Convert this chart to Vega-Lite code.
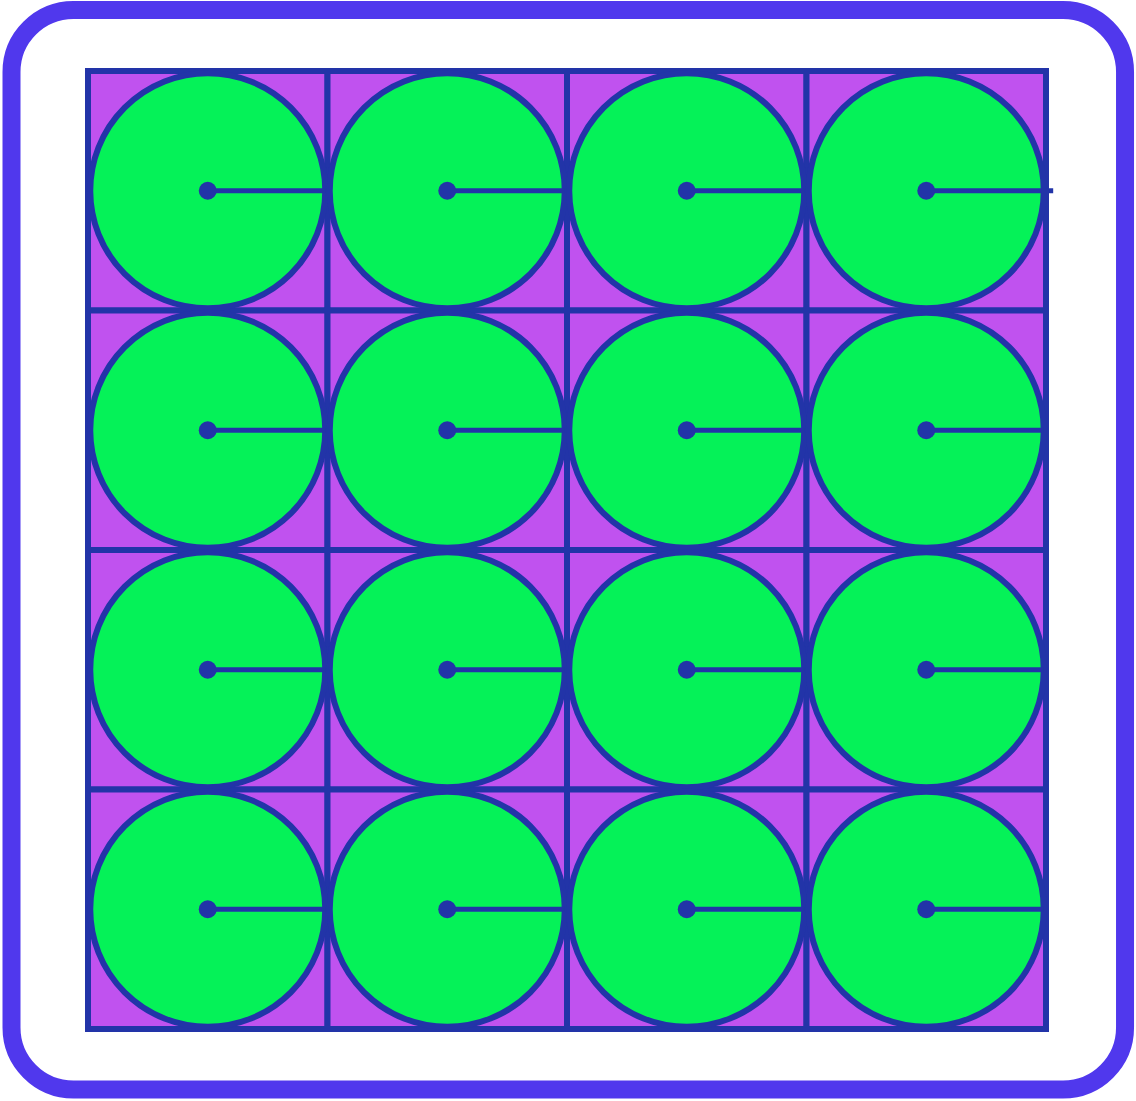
{
  "$schema": "https://vega.github.io/schema/vega-lite/v6.json",
  "width": 1136,
  "height": 1101,
  "autosize": {"type": "none"},
  "padding": 0,
  "background": "white",
  "config": {"view": {"stroke": null}},
  "datasets": {
    "frame": [{"x0": -0.3194, "x1": 4.33, "y0": -0.2547, "y1": 4.2526}],
    "cells": [
      {"x0": 0, "x1": 1, "y0": 0, "y1": 1, "cx": 0.5, "cy": 0.5, "lx": 0.99},
      {"x0": 1, "x1": 2, "y0": 0, "y1": 1, "cx": 1.5, "cy": 0.5, "lx": 1.99},
      {"x0": 2, "x1": 3, "y0": 0, "y1": 1, "cx": 2.5, "cy": 0.5, "lx": 2.99},
      {"x0": 3, "x1": 4, "y0": 0, "y1": 1, "cx": 3.5, "cy": 0.5, "lx": 4.03},
      {"x0": 0, "x1": 1, "y0": 1, "y1": 2, "cx": 0.5, "cy": 1.5, "lx": 0.99},
      {"x0": 1, "x1": 2, "y0": 1, "y1": 2, "cx": 1.5, "cy": 1.5, "lx": 1.99},
      {"x0": 2, "x1": 3, "y0": 1, "y1": 2, "cx": 2.5, "cy": 1.5, "lx": 2.99},
      {"x0": 3, "x1": 4, "y0": 1, "y1": 2, "cx": 3.5, "cy": 1.5, "lx": 3.99},
      {"x0": 0, "x1": 1, "y0": 2, "y1": 3, "cx": 0.5, "cy": 2.5, "lx": 0.99},
      {"x0": 1, "x1": 2, "y0": 2, "y1": 3, "cx": 1.5, "cy": 2.5, "lx": 1.99},
      {"x0": 2, "x1": 3, "y0": 2, "y1": 3, "cx": 2.5, "cy": 2.5, "lx": 2.99},
      {"x0": 3, "x1": 4, "y0": 2, "y1": 3, "cx": 3.5, "cy": 2.5, "lx": 3.99},
      {"x0": 0, "x1": 1, "y0": 3, "y1": 4, "cx": 0.5, "cy": 3.5, "lx": 0.99},
      {"x0": 1, "x1": 2, "y0": 3, "y1": 4, "cx": 1.5, "cy": 3.5, "lx": 1.99},
      {"x0": 2, "x1": 3, "y0": 3, "y1": 4, "cx": 2.5, "cy": 3.5, "lx": 2.99},
      {"x0": 3, "x1": 4, "y0": 3, "y1": 4, "cx": 3.5, "cy": 3.5, "lx": 3.99}
    ]
  },
  "layer": [
    {
      "data": {"name": "frame"},
      "mark": {"type": "rect", "fill": "transparent", "stroke": "#5038ED", "strokeWidth": 18, "cornerRadius": 62},
      "encoding": {
        "x": {"field": "x0", "type": "quantitative", "axis": null, "scale": {"domain": [0, 4], "range": [88, 1046], "nice": false, "zero": false}},
        "x2": {"field": "x1"},
        "y": {"field": "y0", "type": "quantitative", "axis": null, "scale": {"domain": [0, 4], "range": [71, 1029], "nice": false, "zero": false}},
        "y2": {"field": "y1"}
      }
    },
    {
      "data": {"name": "cells"},
      "mark": {"type": "rect", "fill": "#C052EF", "stroke": "#2234A8", "strokeWidth": 6},
      "encoding": {
        "x": {"field": "x0", "type": "quantitative", "axis": null},
        "x2": {"field": "x1"},
        "y": {"field": "y0", "type": "quantitative", "axis": null},
        "y2": {"field": "y1"}
      }
    },
    {
      "data": {"name": "cells"},
      "mark": {"type": "circle", "size": 55225, "fill": "#05F258", "opacity": 1, "fillOpacity": 1, "stroke": "#2234A8", "strokeWidth": 6},
      "encoding": {
        "x": {"field": "cx", "type": "quantitative", "axis": null},
        "y": {"field": "cy", "type": "quantitative", "axis": null}
      }
    },
    {
      "data": {"name": "cells"},
      "mark": {"type": "rule", "color": "#2234A8", "strokeWidth": 5},
      "encoding": {
        "x": {"field": "cx", "type": "quantitative", "axis": null},
        "x2": {"field": "lx"},
        "y": {"field": "cy", "type": "quantitative", "axis": null}
      }
    },
    {
      "data": {"name": "cells"},
      "mark": {"type": "circle", "size": 324, "fill": "#2234A8", "opacity": 1, "fillOpacity": 1},
      "encoding": {
        "x": {"field": "cx", "type": "quantitative", "axis": null},
        "y": {"field": "cy", "type": "quantitative", "axis": null}
      }
    }
  ]
}
